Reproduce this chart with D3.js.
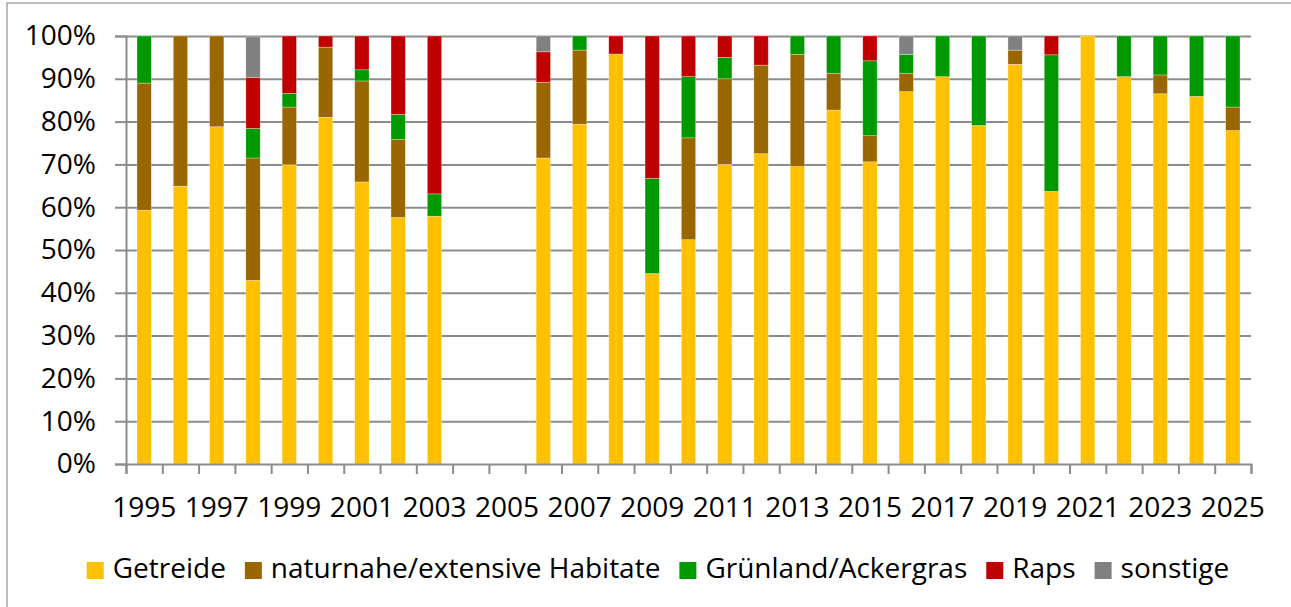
<!DOCTYPE html>
<html>
<head>
<meta charset="utf-8">
<script src="https://cdn.jsdelivr.net/npm/d3@7"></script>
<style>
  body { margin: 0; background: #fff; }
  svg text { font-family: "Open Sans", "Noto Sans", sans-serif; fill: #000; }
</style>
</head>
<body>
<script>
// DATA (percent of area per year, 2004/2005 no data)
var years = d3.range(1995, 2026);
var getreide  = [59.3, 64.9, 78.8, 42.9, 69.9, 81.0, 65.9, 57.6, 57.9, null, null, 71.5, 79.4, 95.8, 44.5, 52.4, 70.0, 72.5, 69.5, 82.7, 70.6, 87.0, 90.5, 79.1, 93.4, 63.7, 100, 90.5, 86.5, 85.9, 77.9];
var naturnahe = [29.7, 35.1, 21.2, 28.6, 13.5, 16.4, 23.6, 18.2, 0,    null, null, 17.7, 17.3, 0,    0,    23.8, 20.0, 20.7, 26.2, 8.6,  6.1,  4.3,  0,    0,    3.3,  0,    0,   0,    4.4,  0,    5.5];
var gruenland = [11.0, 0,    0,    6.9,  3.2,  0,    2.6,  5.9,  5.2,  null, null, 0,    3.3,  0,    22.2, 14.3, 5.0,  0,    4.3,  8.7,  17.5, 4.4,  9.5,  20.9, 0,    31.9, 0,   9.5,  9.1,  14.1, 16.6];
var raps      = [0,    0,    0,    11.9, 13.4, 2.6,  7.9,  18.3, 36.9, null, null, 7.1,  0,    4.2,  33.3, 9.5,  5.0,  6.8,  0,    0,    5.8,  0,    0,    0,    0,    4.4,  0,   0,    0,    0,    0];
var sonstige  = [0,    0,    0,    9.5,  0,    0,    0,    0,    0,    null, null, 3.7,  0,    0,    0,    0,    0,    0,    0,    0,    0,    4.3,  0,    0,    3.3,  0,    0,   0,    0,    0,    0];

var seriesNames = ['Getreide', 'naturnahe/extensive Habitate', 'Grünland/Ackergras', 'Raps', 'sonstige'];
var seriesColors = ['#FFC000', '#996600', '#009900', '#C00000', '#808080'];
var yTicks = [0, 10, 20, 30, 40, 50, 60, 70, 80, 90, 100];

// SET UP DIMENSIONS
var W = 1291, H = 607;
var plot = { left: 126, right: 1251, top: 36, bottom: 464 };
var fontSize = 28;

var svg = d3.select('body').append('svg')
  .attr('width', W)
  .attr('height', H);

// outer frame
svg.append('rect')
  .attr('x', 7).attr('y', 3)
  .attr('width', W + 20).attr('height', H + 20)
  .attr('fill', 'none')
  .attr('stroke', '#a6a6a6')
  .attr('stroke-width', 1.5);

// rows for the stack
var rows = years.map(function(y, i) {
  return {
    year: y,
    'Getreide': getreide[i] || 0,
    'naturnahe/extensive Habitate': naturnahe[i] || 0,
    'Grünland/Ackergras': gruenland[i] || 0,
    'Raps': raps[i] || 0,
    'sonstige': sonstige[i] || 0
  };
});

var stacked = d3.stack().keys(seriesNames)(rows);

// SCALES
var x = d3.scaleBand()
  .domain(years)
  .range([plot.left, plot.right])
  .paddingInner(0.605)
  .paddingOuter(0.3025);

var xEdges = d3.scaleLinear()
  .domain([0, years.length])
  .range([plot.left, plot.right]);

var y = d3.scaleLinear()
  .domain([0, 100])
  .range([plot.bottom, plot.top]);

var color = d3.scaleOrdinal().domain(seriesNames).range(seriesColors);

// GRIDLINES
svg.append('g')
  .attr('class', 'grid')
  .attr('transform', 'translate(' + plot.left + ',0)')
  .call(d3.axisLeft(y).tickValues(yTicks.slice(1)).tickSize(-(plot.right - plot.left)).tickFormat(''))
  .call(function(g) {
    g.select('.domain').remove();
    g.selectAll('line').attr('stroke', '#8c8c8c').attr('stroke-width', 2);
  });

// BARS
svg.append('g')
  .selectAll('g')
  .data(stacked)
  .enter().append('g')
    .attr('fill', function(d) { return color(d.key); })
  .selectAll('rect')
  .data(function(d) { return d.filter(function(p) { return p[1] - p[0] > 0; }); })
  .enter().append('rect')
    .attr('x', function(d) { return x(d.data.year); })
    .attr('width', x.bandwidth())
    .attr('y', function(d) { return y(d[1]); })
    .attr('height', function(d) { return y(d[0]) - y(d[1]); })
    .attr('stroke', '#fff')
    .attr('stroke-opacity', 0.5)
    .attr('stroke-width', 0.6);

// Y AXIS
svg.append('g')
  .attr('class', 'axis y')
  .attr('transform', 'translate(' + plot.left + ',0)')
  .call(d3.axisLeft(y).tickValues(yTicks).tickSize(11).tickPadding(19).tickFormat(function(d) { return d + '%'; }))
  .call(function(g) {
    g.select('.domain').attr('stroke', '#8c8c8c').attr('stroke-width', 2);
    g.selectAll('line').attr('stroke', '#8c8c8c').attr('stroke-width', 2);
    g.selectAll('text').attr('font-size', fontSize);
  });

// X AXIS: tick marks at the band edges
svg.append('g')
  .attr('class', 'axis x ticks')
  .attr('transform', 'translate(0,' + plot.bottom + ')')
  .call(d3.axisBottom(xEdges).tickValues(d3.range(0, years.length + 1)).tickSize(10).tickFormat(''))
  .call(function(g) {
    g.select('.domain').attr('stroke', '#8c8c8c').attr('stroke-width', 2);
    g.selectAll('line').attr('stroke', '#8c8c8c').attr('stroke-width', 2);
  });

// X AXIS: year labels every second year
svg.append('g')
  .attr('class', 'axis x labels')
  .attr('transform', 'translate(0,' + plot.bottom + ')')
  .call(d3.axisBottom(x).tickValues(years.filter(function(d) { return d % 2 === 1; })).tickSize(0))
  .call(function(g) {
    g.select('.domain').remove();
    g.selectAll('text').attr('font-size', fontSize).attr('y', 53).attr('dy', null);
  });

// LEGEND
var legend = svg.append('g').attr('class', 'legend');
var lx = 0;
seriesNames.forEach(function(name, i) {
  var item = legend.append('g').attr('transform', 'translate(' + lx + ',0)');
  item.append('rect')
    .attr('x', 0).attr('y', -16)
    .attr('width', 17).attr('height', 17)
    .attr('fill', seriesColors[i]);
  var t = item.append('text')
    .attr('x', 26).attr('y', 0)
    .attr('font-size', fontSize)
    .text(name);
  lx += 26 + t.node().getComputedTextLength() + 19;
});
var legendWidth = lx - 19;
legend.attr('transform', 'translate(' + (658 - legendWidth / 2) + ',578)');
</script>
</body>
</html>
